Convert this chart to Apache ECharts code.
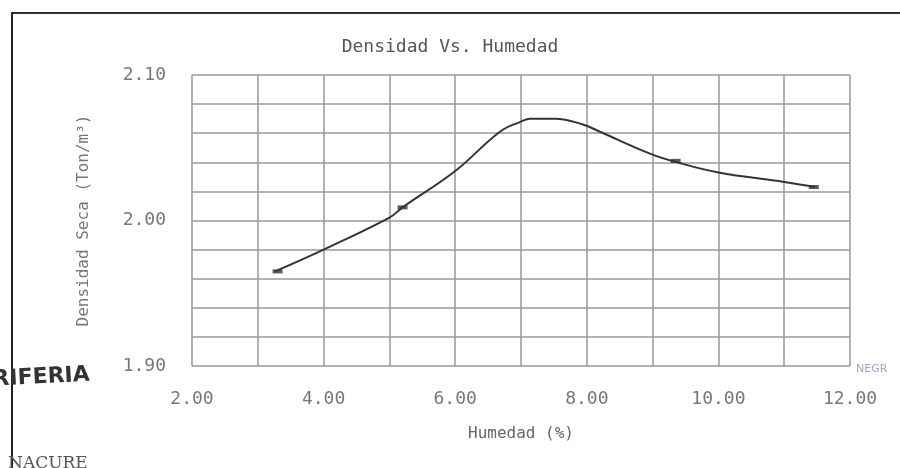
<!DOCTYPE html>
<html>
<head>
<meta charset="utf-8">
<script src="https://cdn.jsdelivr.net/npm/echarts@6/dist/echarts.min.js"></script>
<style>
  html, body { margin: 0; padding: 0; background: #fff; }
  #chart { width: 900px; height: 468px; }
</style>
</head>
<body>
<div id="chart"></div>
<script>
// curve (humedad %, densidad seca)
const curveX = [3.26, 4.0, 5.0, 5.2, 6.0, 6.68, 7.0, 7.14, 7.52, 7.94, 8.2, 8.96, 9.37, 10.0, 11.0, 11.47]
const curveY = [1.965, 1.980, 2.002, 2.009, 2.034, 2.061, 2.068, 2.070, 2.070, 2.066, 2.061, 2.046, 2.040, 2.033, 2.0265, 2.023]
// measured points (small flat marks on the curve)
const pointX = [3.3, 5.2, 9.35, 11.45]
const pointY = [1.965, 2.009, 2.041, 2.023]

const font = '"DejaVu Sans Mono", "Liberation Mono", monospace'

const chart = echarts.init(document.getElementById('chart'))
chart.setOption({
  backgroundColor: '#fff',
  animation: false,
  title: {
    text: 'Densidad Vs. Humedad',
    left: 'center',
    top: 33,
    textStyle: { fontFamily: font, fontSize: 18, fontWeight: 'normal', color: '#555' }
  },
  grid: { left: 192, right: 50, top: 75, bottom: 102 },
  xAxis: {
    type: 'value',
    min: 2,
    max: 12,
    interval: 1,
    name: 'Humedad (%)',
    nameLocation: 'middle',
    nameGap: 60,
    nameTextStyle: { fontFamily: font, fontSize: 16, color: '#666' },
    axisLine: { show: false },
    axisTick: { show: false },
    axisLabel: {
      margin: 24,
      fontFamily: font,
      fontSize: 18,
      color: '#777',
      formatter: v => (Math.round(v) % 2 === 0 ? v.toFixed(2) : '')
    },
    splitLine: { show: true, lineStyle: { color: '#999', width: 1.5 } }
  },
  yAxis: {
    type: 'value',
    min: 1.9,
    max: 2.1,
    interval: 0.02,
    name: 'Densidad Seca (Ton/m³)',
    nameLocation: 'middle',
    nameGap: 100,
    nameTextStyle: { fontFamily: font, fontSize: 16, color: '#777' },
    axisLine: { show: false },
    axisTick: { show: false },
    axisLabel: {
      margin: 26,
      fontFamily: font,
      fontSize: 18,
      color: '#777',
      formatter: v => (Math.round(v * 100) % 10 === 0 ? v.toFixed(2) : '')
    },
    splitLine: { show: true, lineStyle: { color: '#999', width: 1.5 } }
  },
  series: [
    {
      type: 'line',
      data: curveX.map((x, i) => [x, curveY[i]]),
      smooth: 0.4,
      showSymbol: false,
      lineStyle: { color: '#333', width: 2 }
    },
    {
      type: 'scatter',
      data: pointX.map((x, i) => [x, pointY[i]]),
      symbol: 'rect',
      symbolSize: [10, 4],
      itemStyle: { color: '#333' }
    }
  ],
  graphic: [
    // document frame from the scan
    { type: 'line', shape: { x1: 11, y1: 13, x2: 900, y2: 13 }, style: { stroke: '#333', lineWidth: 2 } },
    { type: 'line', shape: { x1: 12, y1: 13, x2: 12, y2: 468 }, style: { stroke: '#222', lineWidth: 2 } },
    {
      type: 'text', left: -8, top: 364, rotation: 0.05,
      style: { text: 'RIFERIA', font: 'bold 22px "DejaVu Sans"', fill: '#333' }
    },
    {
      type: 'text', left: 8, top: 455,
      style: { text: 'NACURE', font: '17px "DejaVu Serif"', fill: '#555' }
    },
    {
      type: 'text', left: 856, top: 364,
      style: { text: 'NEGR', font: '11px "DejaVu Sans"', fill: '#9aa6d8' }
    }
  ]
})
</script>
</body>
</html>
